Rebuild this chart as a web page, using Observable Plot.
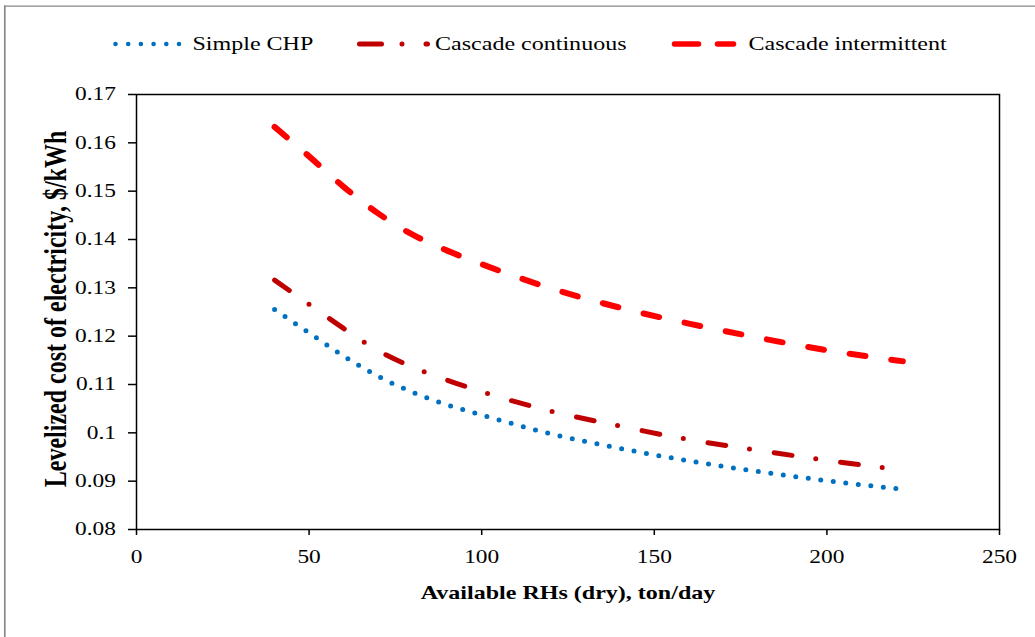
<!DOCTYPE html>
<html>
<head>
<meta charset="utf-8">
<script src="https://cdn.jsdelivr.net/npm/d3@7"></script>
<script src="https://cdn.jsdelivr.net/npm/@observablehq/plot@0.6"></script>
<style>
  html, body { margin: 0; padding: 0; background: #fff; }
  #chart svg { display: block; }
</style>
</head>
<body>
<div id="chart"></div>
<script>
// ---- data ----
const xValues = [40, 50, 60, 70, 80, 90, 100, 120, 140, 160, 180, 200, 222];
const simpleCHP = [0.1255, 0.1207, 0.1159, 0.1117, 0.1084, 0.1058, 0.1037, 0.0998, 0.0968, 0.0942, 0.0920, 0.0901, 0.0883];
const cascadeContinuous = [0.1316, 0.1266, 0.1216, 0.1170, 0.1136, 0.1109, 0.1085, 0.1045, 0.1014, 0.0986, 0.0964, 0.0943, 0.0923];
const cascadeIntermittent = [0.1633, 0.1572, 0.1509, 0.1454, 0.1410, 0.1377, 0.1349, 0.1299, 0.1259, 0.1226, 0.1197, 0.1171, 0.1148];
const seriesNames = ["Simple CHP", "Cascade continuous", "Cascade intermittent"];
const xTicks = [0, 50, 100, 150, 200, 250];
const yTicks = [0.08, 0.09, 0.10, 0.11, 0.12, 0.13, 0.14, 0.15, 0.16, 0.17];
const xTitle = "Available RHs (dry), ton/day";
const yTitle = "Levelized cost of electricity, $/kWh";
</script>
<script>
const seriesValues = [simpleCHP, cascadeContinuous, cascadeIntermittent];
const data = seriesNames.flatMap((name, k) =>
  xValues.map((x, i) => ({series: name, x, y: seriesValues[k][i]})));

const styles = {
  "Simple CHP": {stroke: "#0070C0", strokeWidth: 5, strokeDasharray: "0 12.6"},
  "Cascade continuous": {stroke: "#C00000", strokeWidth: 5, strokeDasharray: "18 24 0 25"},
  "Cascade intermittent": {stroke: "#FF0000", strokeWidth: 6, strokeDasharray: "16 26"}
};

const FONT = "'Liberation Serif', 'Times New Roman', Times, serif";
const S = 1.3; // horizontal stretch of the reference's text

const plot = Plot.plot({
  width: 1035,
  height: 637,
  marginLeft: 136,
  marginRight: 36,
  marginTop: 94,
  marginBottom: 108,
  style: {fontFamily: FONT, fontSize: "18px", color: "black", background: "white"},
  x: {domain: [0, 250]},
  y: {domain: [0.08, 0.17]},
  marks: [
    Plot.frame({stroke: "black", strokeWidth: 1.5}),
    Plot.axisX({ticks: xTicks, tickSize: 6, tickPadding: 15, strokeWidth: 1.5, label: null, fontSize: 18}),
    Plot.axisY({ticks: yTicks, tickSize: 8, tickPadding: 12.5, strokeWidth: 1.5, label: null, fontSize: 18,
      tickFormat: d => String(+d.toFixed(2))}),
    ...seriesNames.map(name => Plot.line(data.filter(d => d.series === name), {
      x: "x", y: "y", curve: "monotone-x", strokeLinecap: "round", strokeLinejoin: "round",
      ...styles[name]
    }))
  ]
});

document.getElementById("chart").appendChild(plot);
const svg = d3.select(plot);

// stretch tick labels horizontally like the reference
svg.selectAll("g[aria-label$='tick label'] text").each(function() {
  const t = this.getAttribute("transform") || "";
  let extra = "";
  const x = this.getAttribute("x");
  if (x && parseFloat(x)) { extra = `translate(${x},0)`; this.removeAttribute("x"); }
  this.setAttribute("transform", `${t} ${extra} scale(${S},1)`);
});

// outer gray border (left and top visible in the reference)
svg.append("line").attr("x1", 4.8).attr("x2", 4.8).attr("y1", 5.5).attr("y2", 637)
  .attr("stroke", "#888").attr("stroke-width", 1.7);
svg.append("line").attr("x1", 4).attr("x2", 1035).attr("y1", 6.2).attr("y2", 6.2)
  .attr("stroke", "#888").attr("stroke-width", 1.3);

// axis titles
svg.append("g").attr("transform", `translate(568,598.5) scale(${S},1)`)
  .append("text").attr("text-anchor", "middle").attr("font-weight", "bold")
  .attr("font-size", 18.5).attr("font-family", FONT).attr("fill", "black").text(xTitle);
svg.append("g").attr("transform", `translate(66,309) scale(${S},1) rotate(-90)`)
  .append("text").attr("text-anchor", "middle").attr("font-weight", "bold")
  .attr("font-size", 24).attr("font-family", FONT).attr("fill", "black").text(yTitle);

// legend
const legend = [
  {name: seriesNames[0], x1: 115.5, x2: 179, tx: 192.5, dash: "0 12.7", w: 4.6},
  {name: seriesNames[1], x1: 359.5, x2: 427.5, tx: 435, dash: "22 20.5 0 24", w: 5},
  {name: seriesNames[2], x1: 674.5, x2: 733.5, tx: 748.5, dash: "24 19", w: 5.5}
];
const lg = svg.append("g");
legend.forEach(l => {
  lg.append("line").attr("x1", l.x1).attr("x2", l.x2).attr("y1", 44).attr("y2", 44)
    .attr("stroke", styles[l.name].stroke).attr("stroke-width", l.w)
    .attr("stroke-dasharray", l.dash).attr("stroke-linecap", "round");
  lg.append("g").attr("transform", `translate(${l.tx},50) scale(${S},1)`)
    .append("text").attr("text-anchor", "start").attr("font-size", 18.5)
    .attr("font-family", FONT).attr("fill", "black").text(l.name);
});
</script>
</body>
</html>
